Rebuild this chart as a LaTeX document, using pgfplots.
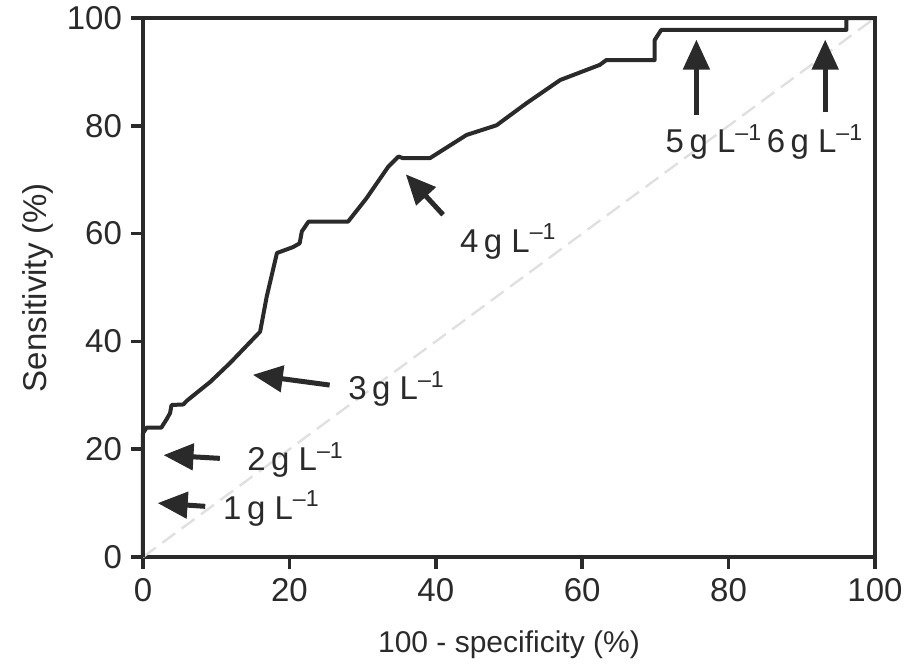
\documentclass[border=0pt]{standalone}
\usepackage{pgfplots}
\pgfplotsset{compat=1.18}
\usepackage{fontspec}
\setmainfont{Liberation Sans}
\usetikzlibrary{arrows.meta}
\definecolor{ink}{HTML}{2A2A2A}
\begin{document}
\begin{tikzpicture}
\begin{axis}[
  scale only axis,
  width=366pt, height=269.5pt,
  xmin=0, xmax=100, ymin=0, ymax=100,
  xtick={0,20,...,100}, ytick={0,20,...,100},
  xtick pos=bottom, ytick pos=left,
  tick align=outside, major tick length=6pt,
  every tick/.style={line width=1.8pt, ink},
  axis line style={line width=2pt, ink},
  tick label style={font=\fontsize{16.5}{18}\selectfont, text=ink},
  /pgf/number format/assume math mode=true,
  xticklabel style={yshift=-1pt},
  yticklabel style={xshift=-1pt},
  xlabel={100 - specificity (\%)},
  ylabel={Sensitivity (\%)},
  label style={text=ink},
  xlabel style={font=\fontsize{15}{17}\selectfont, yshift=-8pt},
  ylabel style={font=\fontsize{16.5}{18}\selectfont, yshift=0pt},
  clip=false,
]
\coordinate (ll) at (rel axis cs:0,0);
\coordinate (ur) at (rel axis cs:1,1);
\addplot[color=black!12, line width=1.2pt, dash pattern=on 8pt off 4pt] coordinates {(0,0) (100,100)};
\addplot[ink, line width=2pt, line join=round] coordinates {
(0,0) (0,23) (0.5,24) (2.5,24) (3.2,25.5) (3.7,26.7) (3.9,28.2) (5.5,28.3) (6,29)
(9.2,32.5) (11.9,36) (16,41.8) (16.9,48.3) (18.3,56.4) (20.5,57.5) (21.4,58.2)
(21.7,60.4) (22.6,62.2) (28,62.2) (30.5,66.5) (33.5,72.4) (34.9,74.3) (35.5,74)
(39.2,74) (44.2,78.3) (48.3,80.1) (52.4,84.2) (57,88.5) (62.4,91.3) (63.3,92.2)
(69.9,92.2) (69.9,95.9) (70.8,97.8) (96.1,97.8) (96.1,100) (100,100)};
% annotation arrows
\tikzset{arr/.style={ink, line width=2.5pt, -{Triangle[length=15pt,width=13pt]}}}
\draw[arr] (axis cs:8.5,9.4) -- (axis cs:2.0,10);
\draw[arr] (axis cs:10.5,18.3) -- (axis cs:2.8,18.9);
\draw[arr] (axis cs:25.5,31.9) -- (axis cs:15.0,33.8);
\draw[arr] (axis cs:41,63.5) -- (axis cs:35.9,71);
\draw[arr] (axis cs:75.6,82) -- (axis cs:75.6,96);
\draw[arr] (axis cs:93.2,82.5) -- (axis cs:93.2,96);
\tikzset{lab/.style={font=\fontsize{16.5}{18}\selectfont, text=ink, inner sep=0pt}}
\node[lab, anchor=west] at (axis cs:10.9,9.0) {1\,g L\textsuperscript{–1}};
\node[lab, anchor=west] at (axis cs:14.2,18.0) {2\,g L\textsuperscript{–1}};
\node[lab, anchor=west] at (axis cs:28,31.2) {3\,g L\textsuperscript{–1}};
\node[lab] at (axis cs:49.9,58.5) {4\,g L\textsuperscript{–1}};
\node[lab] at (axis cs:78.0,77) {5\,g L\textsuperscript{–1}};
\node[lab] at (axis cs:91.8,77) {6\,g L\textsuperscript{–1}};
\end{axis}
\pgfresetboundingbox
\path ([xshift=-71.5pt,yshift=-54.5pt]ll) rectangle ([xshift=21pt,yshift=9pt]ur);
\end{tikzpicture}
\end{document}
